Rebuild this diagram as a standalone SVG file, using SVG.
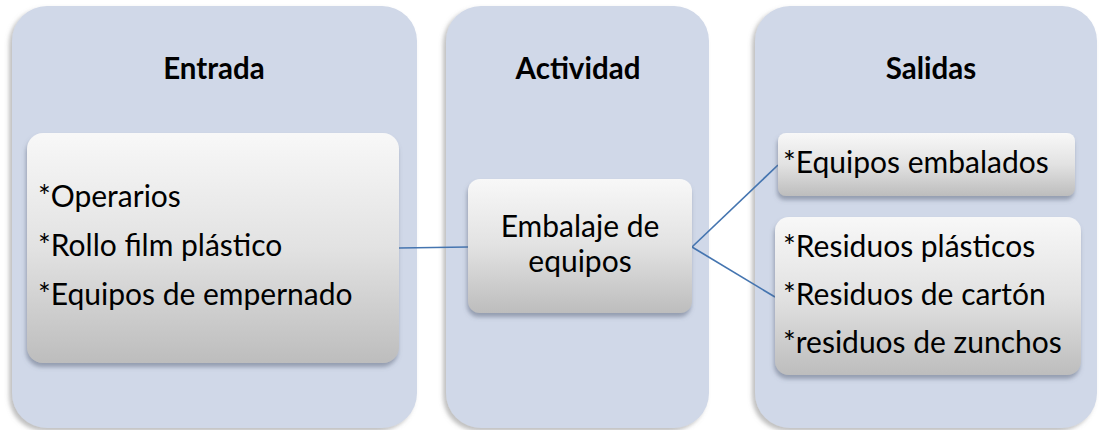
<svg xmlns="http://www.w3.org/2000/svg" width="1099" height="430" viewBox="0 0 1099 430">
<style>
.panel{fill:#D0D8E8;filter:url(#pshadow)}
.box{fill:url(#grad);filter:url(#bshadow)}
.title{font-family:Lato,"Liberation Sans",sans-serif;font-weight:bold;font-size:29.5px;fill:#000;text-anchor:middle}
.txt{font-family:Lato,"Liberation Sans",sans-serif;font-size:30px;fill:#000}
.mid{text-anchor:middle}
.conn{stroke:#4575B0;stroke-width:1.7;fill:none}
</style>
<defs>
<linearGradient id="grad" x1="0" y1="0" x2="0" y2="1">
<stop offset="0" stop-color="#F8F8F8"/>
<stop offset="0.5" stop-color="#E2E2E2"/>
<stop offset="1" stop-color="#BDBDBD"/>
</linearGradient>
<filter id="pshadow" x="-10%" y="-10%" width="120%" height="120%">
<feDropShadow dx="-3" dy="3" stdDeviation="2" flood-color="#808080" flood-opacity="0.5"/>
</filter>
<filter id="bshadow" x="-10%" y="-10%" width="120%" height="130%">
<feDropShadow dx="-1" dy="4" stdDeviation="2" flood-color="#5A6478" flood-opacity="0.5"/>
</filter>
</defs>
<rect width="1099" height="430" fill="#FFFFFF"/>
<g id="panel-entrada">
<rect class="panel" x="12" y="6" width="405" height="422" rx="35"/>
<text class="title" x="214" y="79">Entrada</text>
</g>
<g id="panel-actividad">
<rect class="panel" x="446" y="6" width="263" height="422" rx="35"/>
<text class="title" x="578" y="79">Actividad</text>
</g>
<g id="panel-salidas">
<rect class="panel" x="755" y="6" width="342" height="422" rx="35"/>
<text class="title" x="931" y="79">Salidas</text>
</g>
<g id="connectors">
<line class="conn" x1="399" y1="248" x2="468" y2="247"/>
<line class="conn" x1="692" y1="247" x2="778" y2="165"/>
<line class="conn" x1="692" y1="247" x2="775" y2="297"/>
</g>
<g id="node-entrada">
<rect class="box" x="27" y="133" width="372" height="230" rx="16"/>
<text class="txt" x="38" y="207">*Operarios</text>
<text class="txt" x="38" y="256">*Rollo film plástico</text>
<text class="txt" x="38" y="305">*Equipos de empernado</text>
</g>
<g id="node-actividad">
<rect class="box" x="468" y="179" width="224" height="134" rx="12"/>
<text class="txt mid" x="580" y="237">Embalaje de</text>
<text class="txt mid" x="580" y="272">equipos</text>
</g>
<g id="node-salida1">
<rect class="box" x="778" y="133" width="297" height="63" rx="8"/>
<text class="txt" x="783" y="173">*Equipos embalados</text>
</g>
<g id="node-salida2">
<rect class="box" x="775" y="217" width="306" height="158" rx="14"/>
<text class="txt" x="783" y="257">*Residuos plásticos</text>
<text class="txt" x="783" y="305">*Residuos de cartón</text>
<text class="txt" x="783" y="353">*residuos de zunchos</text>
</g>
</svg>
